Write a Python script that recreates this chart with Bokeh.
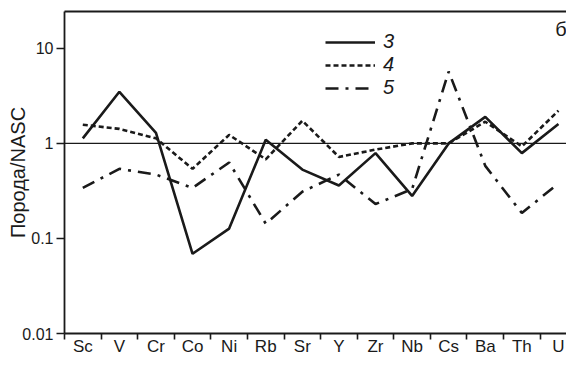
from bokeh.plotting import figure
from bokeh.models import Range1d, FixedTicker, LinearAxis, Span, Legend, LegendItem, Label
from bokeh.embed import file_html
from bokeh.resources import INLINE

categories = ["Sc", "V", "Cr", "Co", "Ni", "Rb", "Sr", "Y", "Zr", "Nb", "Cs", "Ba", "Th", "U"]
series3 = [1.13, 3.49, 1.29, 0.069, 0.127, 1.09, 0.53, 0.36, 0.79, 0.28, 1.0, 1.9, 0.79, 1.6]
series4 = [1.57, 1.42, 1.13, 0.54, 1.23, 0.68, 1.73, 0.72, 0.86, 1.0, 1.0, 1.69, 0.93, 2.21]
series5 = [0.34, 0.54, 0.47, 0.34, 0.63, 0.143, 0.31, 0.47, 0.23, 0.33, 5.7, 0.58, 0.185, 0.38]
y_ticks = [0.01, 0.1, 1, 10]
y_tick_labels = ["0.01", "0.1", "1", "10"]
series_names = ["3", "4", "5"]

x = list(range(len(categories)))
INK = "#1a1a1a"
FONT = "Liberation Sans"

p = figure(width=566, height=358, y_axis_type="log",
           x_range=Range1d(-0.5, 13.22), y_range=Range1d(0.01, 24.4),
           output_backend="svg", toolbar_location=None,
           min_border_left=64, min_border_right=0, min_border_top=11, min_border_bottom=0)
p.grid.visible = False
p.outline_line_color = None
p.background_fill_color = "white"
p.border_fill_color = "white"

# x axis
xa = p.xaxis[0]
xa.ticker = FixedTicker(ticks=x, minor_ticks=[i - 0.5 for i in range(len(categories) + 1)])
xa.major_label_overrides = {i: c for i, c in enumerate(categories)}
xa.major_tick_out = 0
xa.major_tick_in = 0
xa.minor_tick_out = 6
xa.minor_tick_in = 0
xa.minor_tick_line_width = 1.6
xa.minor_tick_line_color = INK
xa.axis_line_width = 1.8
xa.axis_line_color = INK
xa.major_label_standoff = -3
xa.major_label_text_font = FONT
xa.major_label_text_font_size = "17px"
xa.major_label_text_color = INK

# y axis
ya = p.yaxis[0]
ya.ticker = FixedTicker(ticks=y_ticks, minor_ticks=[])
ya.major_label_overrides = {t: s for t, s in zip(y_ticks, y_tick_labels)}
ya.major_tick_out = 8
ya.major_tick_in = 0
ya.minor_tick_out = 0
ya.minor_tick_in = 0
ya.major_tick_line_width = 1.6
ya.major_tick_line_color = INK
ya.axis_line_width = 1.8
ya.axis_line_color = INK
ya.major_label_standoff = 3
ya.major_label_text_font = FONT
ya.major_label_text_font_size = "16px"
ya.major_label_text_color = INK
ya.axis_label = "Порода/NASC"
ya.axis_label_text_font = FONT
ya.axis_label_text_font_size = "20px"
ya.axis_label_text_font_style = "normal"
ya.axis_label_text_color = INK
ya.axis_label_standoff = -10

# top border line
top = LinearAxis(ticker=FixedTicker(ticks=[]), major_tick_out=0, major_tick_in=0,
                 minor_tick_out=0, minor_tick_in=0, major_label_text_font_size="0px",
                 axis_line_width=1.8, axis_line_color=INK)
p.add_layout(top, "above")

# reference line at 1
p.add_layout(Span(location=1, dimension="width", line_color=INK, line_width=1.2))

r3 = p.line(x, series3, line_color=INK, line_width=2.6)
r4 = p.line(x, series4, line_color=INK, line_width=2.6, line_dash="5 3")
r5 = p.line(x, series5, line_color=INK, line_width=2.6, line_dash="13 7 3 7")

legend = Legend(items=[LegendItem(label=series_names[0], renderers=[r3]),
                       LegendItem(label=series_names[1], renderers=[r4]),
                       LegendItem(label=series_names[2], renderers=[r5])],
                location=(261, 234), glyph_width=50, glyph_height=20, label_height=20,
                spacing=0, padding=0, margin=0, border_line_color=None,
                background_fill_alpha=0, label_text_font=FONT,
                label_text_font_style="italic", label_text_font_size="20px",
                label_text_color=INK, label_standoff=8)
p.add_layout(legend)

p.add_layout(Label(x=12.91, y=20.6, text="б", text_font=FONT, text_font_size="20px",
                   text_color=INK, text_baseline="top", text_align="left"))

open("out.html", "w").write(file_html(p, INLINE))
